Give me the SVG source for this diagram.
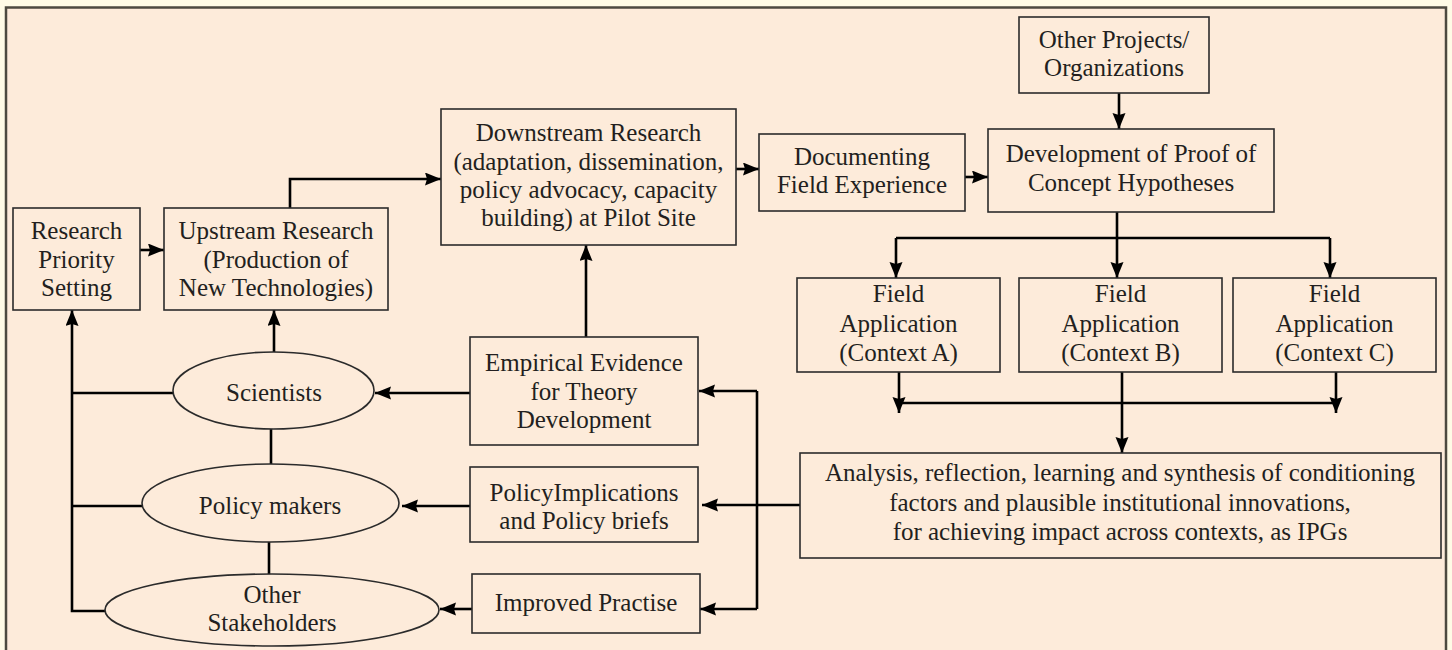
<svg xmlns="http://www.w3.org/2000/svg" width="1452" height="650" viewBox="0 0 1452 650">
<defs>
<marker id="ah" markerUnits="userSpaceOnUse" markerWidth="18" markerHeight="14" refX="16" refY="6.5" orient="auto">
<path d="M0,0 L16,6.5 L0,13 L2,6.5 z" fill="#000"/>
</marker>
<style>
.box{fill:#FDEBDA;stroke:#2b2b2b;stroke-width:1.6}
text{font-family:"Liberation Serif","DejaVu Serif","Noto Serif",serif;font-size:25px;fill:#231f20;text-anchor:middle}
.c{fill:none;stroke:#000;stroke-width:2.6}
.a{marker-end:url(#ah)}
</style>
</defs>
<rect x="0" y="0" width="1452" height="650" fill="#FFFBE6"/>
<rect x="6" y="7.5" width="1440" height="700" fill="#FDEBDA" stroke="#4D4A40" stroke-width="2.5"/>

<g id="connectors">
<line class="c a" x1="140" y1="250" x2="164" y2="250"/>
<polyline class="c a" points="290,208 290,179 441,179"/>
<line class="c a" x1="736" y1="169" x2="759" y2="169"/>
<line class="c a" x1="965" y1="177" x2="988" y2="177"/>
<line class="c a" x1="1119" y1="93" x2="1119" y2="129"/>
<line class="c" x1="1117" y1="212" x2="1117" y2="238"/>
<line class="c" x1="896" y1="238" x2="1330" y2="238"/>
<line class="c a" x1="896" y1="238" x2="896" y2="278"/>
<line class="c a" x1="1117" y1="238" x2="1117" y2="278"/>
<line class="c a" x1="1330" y1="238" x2="1330" y2="278"/>
<line class="c a" x1="899" y1="372" x2="899" y2="413"/>
<line class="c a" x1="1336" y1="372" x2="1336" y2="413"/>
<line class="c" x1="899" y1="403" x2="1336" y2="403"/>
<line class="c a" x1="1122" y1="372" x2="1122" y2="453"/>
<line class="c a" x1="800" y1="505" x2="702" y2="505"/>
<line class="c" x1="757" y1="391" x2="757" y2="609"/>
<line class="c a" x1="757" y1="391" x2="699" y2="391"/>
<line class="c a" x1="757" y1="609" x2="700" y2="609"/>
<line class="c a" x1="586" y1="337" x2="586" y2="245"/>
<line class="c a" x1="470" y1="393" x2="375" y2="393"/>
<line class="c a" x1="470" y1="506" x2="402" y2="506"/>
<line class="c a" x1="472" y1="609" x2="440" y2="609"/>
<line class="c a" x1="274" y1="352" x2="274" y2="310"/>
<line class="c" x1="271" y1="429" x2="271" y2="464"/>
<line class="c" x1="269" y1="542" x2="269" y2="574"/>
<polyline class="c a" points="105,611 72,611 72,310"/>
<line class="c" x1="72" y1="393" x2="173" y2="393"/>
<line class="c" x1="72" y1="506" x2="142" y2="506"/>
</g>

<g id="research-priority">
<rect class="box" x="13" y="208" width="127" height="102"/>
<text x="76.5" y="239">Research</text>
<text x="76.5" y="267.5">Priority</text>
<text x="76.5" y="296">Setting</text>
</g>
<g id="upstream">
<rect class="box" x="164" y="208" width="224" height="102"/>
<text x="276" y="239">Upstream Research</text>
<text x="276" y="267.5">(Production of</text>
<text x="276" y="296">New Technologies)</text>
</g>
<g id="downstream">
<rect class="box" x="441" y="109" width="295" height="136"/>
<text x="588.5" y="141">Downstream Research</text>
<text x="588.5" y="170">(adaptation, dissemination,</text>
<text x="588.5" y="198">policy advocacy, capacity</text>
<text x="588.5" y="226">building) at Pilot Site</text>
</g>
<g id="documenting">
<rect class="box" x="759" y="134" width="206" height="77"/>
<text x="862" y="165">Documenting</text>
<text x="862" y="193">Field Experience</text>
</g>
<g id="other-projects">
<rect class="box" x="1019" y="17" width="190" height="76"/>
<text x="1114" y="48">Other Projects/</text>
<text x="1114" y="76">Organizations</text>
</g>
<g id="development">
<rect class="box" x="988" y="129" width="286" height="83"/>
<text x="1131" y="162">Development of Proof of</text>
<text x="1131" y="191">Concept Hypotheses</text>
</g>
<g id="field-a">
<rect class="box" x="797" y="278" width="203" height="94"/>
<text x="898.5" y="302">Field</text>
<text x="898.5" y="332">Application</text>
<text x="898.5" y="361">(Context A)</text>
</g>
<g id="field-b">
<rect class="box" x="1019" y="278" width="203" height="94"/>
<text x="1120.5" y="302">Field</text>
<text x="1120.5" y="332">Application</text>
<text x="1120.5" y="361">(Context B)</text>
</g>
<g id="field-c">
<rect class="box" x="1233" y="278" width="203" height="94"/>
<text x="1334.5" y="302">Field</text>
<text x="1334.5" y="332">Application</text>
<text x="1334.5" y="361">(Context C)</text>
</g>
<g id="analysis">
<rect class="box" x="800" y="453" width="641" height="105"/>
<text x="1120" y="481">Analysis, reflection, learning and synthesis of conditioning</text>
<text x="1120" y="511">factors and plausible institutional innovations,</text>
<text x="1120" y="540">for achieving impact across contexts, as IPGs</text>
</g>
<g id="empirical">
<rect class="box" x="470" y="337" width="228" height="108"/>
<text x="584" y="371">Empirical Evidence</text>
<text x="584" y="400">for Theory</text>
<text x="584" y="428">Development</text>
</g>
<g id="policy-implications">
<rect class="box" x="470" y="467" width="228" height="75"/>
<text x="584" y="501">PolicyImplications</text>
<text x="584" y="529">and Policy briefs</text>
</g>
<g id="improved-practise">
<rect class="box" x="472" y="574" width="228" height="59"/>
<text x="586" y="611">Improved Practise</text>
</g>
<g id="scientists">
<ellipse class="box" cx="273.5" cy="390.5" rx="100.5" ry="38.5"/>
<text x="274" y="401">Scientists</text>
</g>
<g id="policy-makers">
<ellipse class="box" cx="270.5" cy="503" rx="128.5" ry="39"/>
<text x="270" y="514">Policy makers</text>
</g>
<g id="other-stakeholders">
<ellipse class="box" cx="272" cy="610" rx="167" ry="36"/>
<text x="272" y="603">Other</text>
<text x="272" y="631">Stakeholders</text>
</g>
</svg>
